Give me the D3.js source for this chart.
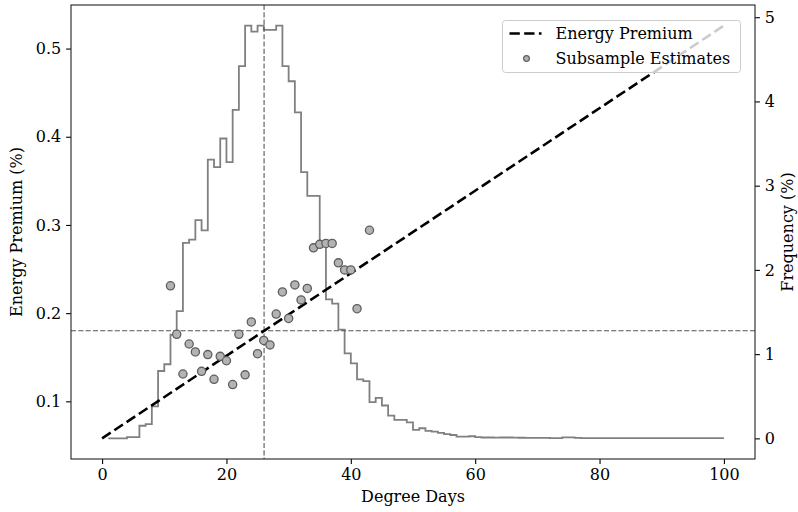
<!DOCTYPE html>
<html>
<head>
<meta charset="utf-8">
<script src="https://cdn.jsdelivr.net/npm/d3@7"></script>
<style>
  body { margin: 0; background: #fff; }
  text { font-family: "DejaVu Serif", serif; fill: #000; }
</style>
</head>
<body>
<svg id="chart" width="798" height="512"></svg>
<script>
// histogram of degree days, value for bin (dd-1, dd]
let hist_dd = d3.range(1, 101)
let hist_freq = [
  0.00, 0.00, 0.00, 0.00, 0.015, 0.015, 0.15, 0.17, 0.38, 0.80,
  0.88, 1.23, 1.51, 2.32, 2.36, 2.59, 2.47, 3.31, 3.22, 3.56,
  3.28, 3.90, 4.42, 4.90, 4.83, 4.90, 4.85, 4.85, 4.90, 4.42,
  4.24, 3.87, 3.16, 2.88, 2.88, 2.31, 1.65, 1.60, 1.29, 1.01,
  0.89, 0.70, 0.68, 0.43, 0.48, 0.39, 0.27, 0.22, 0.22, 0.19,
  0.10, 0.12, 0.09, 0.08, 0.065, 0.05, 0.04, 0.02, 0.02, 0.025,
  0.015, 0.01, 0.01, 0.008, 0.01, 0.01, 0.008, 0.007, 0.006, 0.006,
  0.005, 0.005, 0.004, 0.004, 0.012, 0.012, 0.006, 0.004, 0.004, 0.004,
  0.003, 0.003, 0.003, 0.003, 0.003, 0.003, 0.003, 0.003, 0.003, 0.003,
  0.003, 0.003, 0.003, 0.003, 0.003, 0.003, 0.003, 0.003, 0.003, 0.003
]

// fitted energy premium line
let premium_dd = [0, 100]
let premium_val = [0.058, 0.526]

// subsample estimates
let sub_dd = [11, 12, 13, 14, 15, 16, 17, 18, 19, 20, 21, 22, 23, 24, 25, 26,
  27, 28, 29, 30, 31, 32, 33, 34, 35, 36, 37, 38, 39, 40, 41, 43]
let sub_premium = [0.231, 0.176, 0.131, 0.165, 0.156, 0.134, 0.153, 0.125, 0.151, 0.146,
  0.119, 0.176, 0.130, 0.190, 0.154, 0.169, 0.164, 0.199, 0.224, 0.194,
  0.232, 0.215, 0.228, 0.274, 0.278, 0.279, 0.279, 0.257, 0.249, 0.249,
  0.205, 0.294]

// mean degree days and premium at the mean
let mean_dd = 26.05
let mean_premium = 0.180

let x_ticks = [0, 20, 40, 60, 80, 100]
let y_ticks = [0.1, 0.2, 0.3, 0.4, 0.5]
let freq_ticks = [0, 1, 2, 3, 4, 5]
let legend_labels = ['Energy Premium', 'Subsample Estimates']

let width = 798, height = 512
let margin = {top: 5, right: 43, bottom: 53, left: 71}
let innerW = width - margin.left - margin.right
let innerH = height - margin.top - margin.bottom
let fontSize = 16

function padded(ext) {
  let r = ext[1] - ext[0]
  return [ext[0] - 0.05 * r, ext[1] + 0.05 * r]
}

let xScale = d3.scaleLinear().domain(padded([0, 100])).range([0, innerW])
let yScale = d3.scaleLinear()
  .domain(padded(d3.extent(premium_val.concat(sub_premium))))
  .range([innerH, 0])
let fScale = d3.scaleLinear()
  .domain(padded([0, d3.max(hist_freq)]))
  .range([innerH, 0])

let svg = d3.select('#chart')
let g = svg.append('g').attr('transform', `translate(${margin.left},${margin.top})`)

// histogram step line
let histLine = d3.line()
  .x((d, i) => xScale(hist_dd[i]))
  .y(d => fScale(d))
  .curve(d3.curveStepBefore)

g.append('path')
  .datum(hist_freq)
  .attr('d', histLine)
  .attr('fill', 'none')
  .attr('stroke', '#808080')
  .attr('stroke-width', 1.8)

// reference lines at the mean
g.append('line')
  .attr('x1', xScale(mean_dd)).attr('x2', xScale(mean_dd))
  .attr('y1', 0).attr('y2', innerH)
  .attr('stroke', '#555').attr('stroke-width', 1.1)
  .attr('stroke-dasharray', '5.1,2.2')

g.append('line')
  .attr('x1', 0).attr('x2', innerW)
  .attr('y1', yScale(mean_premium)).attr('y2', yScale(mean_premium))
  .attr('stroke', '#555').attr('stroke-width', 1.1)
  .attr('stroke-dasharray', '5.1,2.2')

// energy premium line
let premLine = d3.line()
  .x((d, i) => xScale(premium_dd[i]))
  .y(d => yScale(d))

g.append('path')
  .datum(premium_val)
  .attr('d', premLine)
  .attr('fill', 'none')
  .attr('stroke', '#000')
  .attr('stroke-width', 2.6)
  .attr('stroke-dasharray', '10.3,4.4')

// subsample points
g.selectAll('circle.sub')
  .data(sub_premium)
  .enter().append('circle')
  .attr('class', 'sub')
  .attr('cx', (d, i) => xScale(sub_dd[i]))
  .attr('cy', d => yScale(d))
  .attr('r', 4.1)
  .attr('fill', '#b3b3b3')
  .attr('stroke', '#5e5e5e')
  .attr('stroke-width', 1.3)

// axes
let xAxis = d3.axisBottom(xScale).tickValues(x_ticks).tickFormat(d3.format('d'))
  .tickSizeOuter(0).tickSize(4.9).tickPadding(4.9)
let yAxis = d3.axisLeft(yScale).tickValues(y_ticks).tickFormat(d3.format('.1f'))
  .tickSizeOuter(0).tickSize(4.9).tickPadding(4.9)
let fAxis = d3.axisRight(fScale).tickValues(freq_ticks).tickFormat(d3.format('d'))
  .tickSizeOuter(0).tickSize(4.9).tickPadding(4.9)

let gx = g.append('g').attr('transform', `translate(0,${innerH})`).call(xAxis)
let gy = g.append('g').call(yAxis)
let gf = g.append('g').attr('transform', `translate(${innerW},0)`).call(fAxis)

;[gx, gy, gf].forEach(function(a) {
  a.select('.domain').remove()
  a.selectAll('line').attr('stroke', '#000').attr('stroke-width', 1.1)
  a.selectAll('text').attr('font-size', fontSize).attr('font-family', '"DejaVu Serif", serif')
})

// frame
g.append('rect')
  .attr('width', innerW).attr('height', innerH)
  .attr('fill', 'none').attr('stroke', '#222').attr('stroke-width', 1.1)

// axis labels
svg.append('text')
  .attr('x', margin.left + innerW / 2).attr('y', 502)
  .attr('text-anchor', 'middle').attr('font-size', fontSize)
  .text('Degree Days')

svg.append('text')
  .attr('transform', `translate(22,${margin.top + innerH / 2}) rotate(-90)`)
  .attr('text-anchor', 'middle').attr('font-size', fontSize)
  .text('Energy Premium (%)')

svg.append('text')
  .attr('transform', `translate(793,${margin.top + innerH / 2}) rotate(-90)`)
  .attr('text-anchor', 'middle').attr('font-size', fontSize)
  .text('Frequency (%)')

// legend
let lg = svg.append('g').attr('transform', 'translate(502.5,20.5)')
lg.append('rect')
  .attr('width', 238).attr('height', 52).attr('rx', 3)
  .attr('fill', '#fff').attr('fill-opacity', 0.8)
  .attr('stroke', '#cccccc').attr('stroke-width', 1)

lg.append('line')
  .attr('x1', 7).attr('x2', 39).attr('y1', 13).attr('y2', 13)
  .attr('stroke', '#000').attr('stroke-width', 2.6)
  .attr('stroke-dasharray', '10.3,4.4')

lg.append('circle')
  .attr('cx', 24).attr('cy', 38).attr('r', 2.9)
  .attr('fill', '#b3b3b3').attr('stroke', '#5e5e5e').attr('stroke-width', 1.2)

lg.selectAll('text.leg')
  .data(legend_labels)
  .enter().append('text')
  .attr('class', 'leg')
  .attr('x', 53)
  .attr('y', (d, i) => 13 + i * 25)
  .attr('dy', '0.35em')
  .attr('font-size', fontSize)
  .text(d => d)
</script>
</body>
</html>
